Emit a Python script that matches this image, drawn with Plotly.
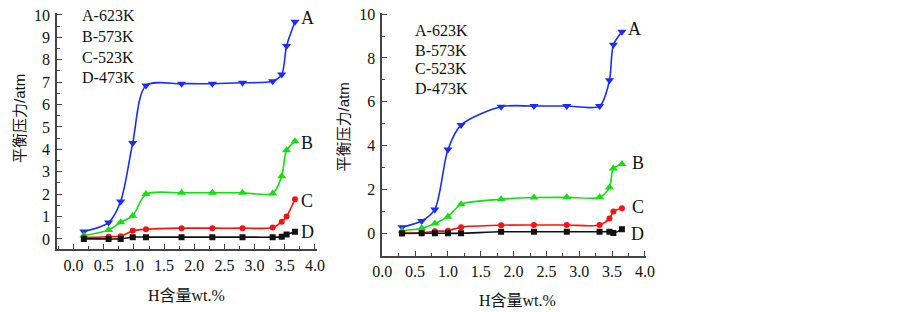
import plotly.graph_objects as go

# ---------------- data ----------------
x_left = [0.17, 0.58, 0.78, 0.98, 1.2, 1.79, 2.3, 2.8, 3.3, 3.45, 3.53, 3.67]
left_A = [0.33, 0.73, 1.67, 4.28, 6.85, 6.93, 6.93, 6.97, 7.04, 7.34, 8.61, 9.7]
left_B = [0.15, 0.4, 0.74, 1.03, 2.0, 2.06, 2.06, 2.06, 2.03, 2.8, 3.96, 4.36]
left_C = [0.06, 0.1, 0.12, 0.36, 0.43, 0.48, 0.48, 0.48, 0.51, 0.77, 1.0, 1.77]
left_D = [0.0, 0.0, 0.0, 0.08, 0.08, 0.08, 0.08, 0.08, 0.08, 0.1, 0.2, 0.32]

x_right = [0.3, 0.6, 0.8, 1.0, 1.2, 1.81, 2.31, 2.81, 3.31, 3.46, 3.52, 3.65]
right_A = [0.29, 0.57, 1.1, 3.83, 4.95, 5.78, 5.81, 5.81, 5.81, 6.98, 8.6, 9.2]
right_B = [0.13, 0.24, 0.46, 0.77, 1.33, 1.56, 1.64, 1.65, 1.65, 2.1, 2.96, 3.17]
right_C = [0.02, 0.03, 0.1, 0.13, 0.29, 0.38, 0.39, 0.39, 0.39, 0.68, 1.0, 1.15]
right_D = [0.0, 0.01, 0.01, 0.01, 0.01, 0.08, 0.08, 0.08, 0.08, 0.08, 0.02, 0.19]

series_names = ["A", "B", "C", "D"]
legend_lines = ["A-623K", "B-573K", "C-523K", "D-473K"]
x_title = "H含量wt.%"
y_title = "平衡压力/atm"

# ---------------- styles ----------------
colors = ["#1a2cff", "#10e010", "#ff1010", "#111111"]
symbols = ["triangle-down", "triangle-up", "circle", "square"]
sizes = [8, 8, 6, 6]
serif = "Liberation Serif, Times New Roman, serif"
cjk = "Liberation Serif, Noto Sans CJK SC, serif"

fig = go.Figure()

left_sets = [left_A, left_B, left_C, left_D]
right_sets = [right_A, right_B, right_C, right_D]

for i in range(4):
    fig.add_trace(go.Scatter(
        x=x_left, y=left_sets[i], mode="lines+markers",
        line=dict(color=colors[i], width=1.6, shape="spline", smoothing=0.8),
        marker=dict(symbol=symbols[i], size=sizes[i], color=colors[i]),
        xaxis="x", yaxis="y", showlegend=False, name=series_names[i]))
for i in range(4):
    fig.add_trace(go.Scatter(
        x=x_right, y=right_sets[i], mode="lines+markers",
        line=dict(color=colors[i], width=1.6, shape="spline", smoothing=0.8),
        marker=dict(symbol=symbols[i], size=sizes[i], color=colors[i]),
        xaxis="x2", yaxis="y2", showlegend=False, name=series_names[i]))

axis_common = dict(
    showline=True, linecolor="#444", linewidth=1.5, showgrid=False, zeroline=False,
    ticks="inside", ticklen=5, tickwidth=1.2, tickcolor="#444", automargin=False,
    tickfont=dict(family=serif, size=16, color="#111"),
)

W, H = 903, 312

def px_x(p):
    return p / W

def px_y(p):
    return 1 - p / H

fig.update_layout(
    width=W, height=H, autosize=False,
    margin=dict(l=0, r=0, t=0, b=0, pad=0),
    paper_bgcolor="white", plot_bgcolor="white",
    xaxis=dict(domain=[px_x(57), px_x(317)], range=[-0.275, 4.035],
               tickvals=[0, 0.5, 1, 1.5, 2, 2.5, 3, 3.5, 4], tickformat=".1f",
               minor=dict(dtick=0.25, ticklen=3, ticks="inside", tickcolor="#444"),
               anchor="y", ticklabelstandoff=1, **axis_common),
    yaxis=dict(domain=[px_y(249), px_y(12.7)], range=[-0.45, 10.1],
               tickvals=list(range(0, 11)),
               minor=dict(dtick=0.5, ticklen=3, ticks="inside", tickcolor="#444"),
               anchor="x", ticklabelstandoff=2, **axis_common),
    xaxis2=dict(domain=[px_x(382.3), px_x(646)], range=[0, 4.017],
                tickvals=[0, 0.5, 1, 1.5, 2, 2.5, 3, 3.5, 4], tickformat=".1f",
                minor=dict(dtick=0.25, ticklen=3, ticks="inside", tickcolor="#444"),
                anchor="y2", ticklabelstandoff=0, **axis_common),
    yaxis2=dict(domain=[px_y(255.7), px_y(13)], range=[-1.01, 10.05],
                tickvals=[0, 2, 4, 6, 8, 10],
                minor=dict(dtick=1, ticklen=3, ticks="inside", tickcolor="#444"),
                anchor="x2", ticklabelstandoff=2, **axis_common),
)

ann = []
# legend-like text blocks
left_text_y = [9.98, 9.05, 8.1, 7.2]
right_text_y = [9.25, 8.35, 7.5, 6.6]
for i, t in enumerate(legend_lines):
    ann.append(dict(x=0.1, y=left_text_y[i], xref="x", yref="y", text=t,
                    showarrow=False, xanchor="left", yanchor="middle",
                    font=dict(family=serif, size=16, color="#111")))
    ann.append(dict(x=0.46, y=right_text_y[i], xref="x2", yref="y2", text=t,
                    showarrow=False, xanchor="left", yanchor="middle",
                    font=dict(family=serif, size=16, color="#111")))

# curve end labels
left_lab_pos = [(3.87, 9.85), (3.87, 4.28), (3.87, 1.7), (3.87, 0.33)]
right_lab_pos = [(3.84, 9.34), (3.89, 3.2), (3.89, 1.22), (3.89, -0.04)]
for i, n in enumerate(series_names):
    ann.append(dict(x=left_lab_pos[i][0], y=left_lab_pos[i][1], xref="x", yref="y",
                    text=n, showarrow=False, xanchor="center", yanchor="middle",
                    font=dict(family=serif, size=18, color="#111")))
    ann.append(dict(x=right_lab_pos[i][0], y=right_lab_pos[i][1], xref="x2", yref="y2",
                    text=n, showarrow=False, xanchor="center", yanchor="middle",
                    font=dict(family=serif, size=18, color="#111")))

# axis titles
ann.append(dict(x=px_x(186), y=px_y(295), xref="paper", yref="paper", text=x_title,
                showarrow=False, xanchor="center", yanchor="middle",
                font=dict(family=cjk, size=16, color="#111")))
ann.append(dict(x=px_x(517), y=px_y(300), xref="paper", yref="paper", text=x_title,
                showarrow=False, xanchor="center", yanchor="middle",
                font=dict(family=cjk, size=16, color="#111")))
ann.append(dict(x=px_x(19), y=px_y(119), xref="paper", yref="paper", text=y_title,
                showarrow=False, xanchor="center", yanchor="middle", textangle=-90,
                font=dict(family="Liberation Sans, Noto Sans CJK SC, sans-serif", size=15, color="#111")))
ann.append(dict(x=px_x(343), y=px_y(127.5), xref="paper", yref="paper", text=y_title,
                showarrow=False, xanchor="center", yanchor="middle", textangle=-90,
                font=dict(family="Liberation Sans, Noto Sans CJK SC, sans-serif", size=15, color="#111")))

fig.update_layout(annotations=ann)
fig.write_html("out.html", config={"displayModeBar": False},
               post_script="document.body.style.margin='0px';document.body.style.overflow='hidden';")
